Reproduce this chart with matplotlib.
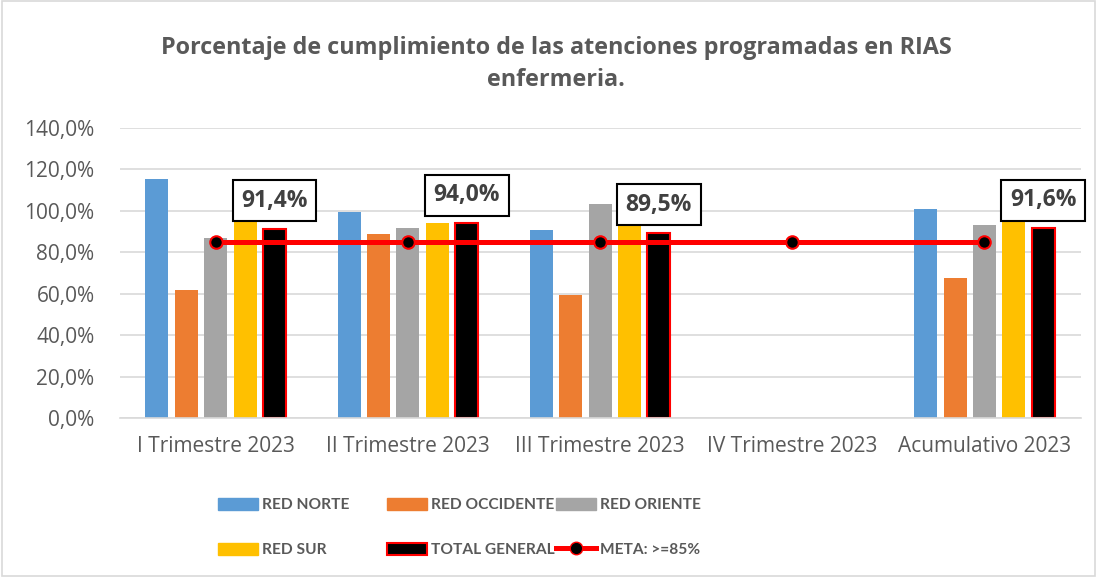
import matplotlib.pyplot as plt
import numpy as np
from matplotlib.lines import Line2D
from matplotlib.patches import Patch, Rectangle

plt.rcParams['font.family'] = ['Open Sans', 'DejaVu Sans']

# data (percent)
categories = ['I Trimestre 2023', 'II Trimestre 2023', 'III Trimestre 2023',
              'IV Trimestre 2023', 'Acumulativo 2023']
red_norte = [115.3, 99.4, 90.8, np.nan, 100.8]
red_occidente = [61.8, 88.9, 59.6, np.nan, 67.6]
red_oriente = [86.8, 91.6, 103.2, np.nan, 93.2]
red_sur = [111.4, 94.0, 103.4, np.nan, 102.1]
total_general = [91.4, 94.0, 89.5, np.nan, 91.6]
meta = [85, 85, 85, 85, 85]

gray_txt = '#595959'
grid_col = '#d9d9d9'

fig = plt.figure(figsize=(10.97, 5.77), dpi=100)
ax = fig.add_axes([0.109, 0.2756, 0.876, 0.5026])

x = np.arange(len(categories))
w = 0.12
step = 0.153
series = [(red_norte, '#5B9BD5', 'RED NORTE'),
          (red_occidente, '#ED7D31', 'RED OCCIDENTE'),
          (red_oriente, '#A5A5A5', 'RED ORIENTE'),
          (red_sur, '#FFC000', 'RED SUR')]
for i, (vals, col, lab) in enumerate(series):
    ax.bar(x + (i - 2) * step, vals, w, color=col, label=lab, zorder=2)
ax.bar(x + 2 * step, total_general, w, color='black', edgecolor='#FF0000',
       linewidth=1.5, label='TOTAL GENERAL', zorder=2)

ax.plot(x, meta, color='#FF0000', lw=3.6, marker='o', markersize=9,
        markerfacecolor='black', markeredgecolor='#FF0000', markeredgewidth=1.5,
        zorder=4)

# boxed labels for TOTAL GENERAL
for xi, v in zip(x, total_general):
    if np.isnan(v):
        continue
    ax.annotate(f'{v:.1f}%'.replace('.', ','), (xi + 2 * step, v),
                xytext=(0, 28), textcoords='offset pixels',
                ha='center', va='center', fontsize=16.5, fontweight='bold',
                color='#404040', zorder=5,
                bbox=dict(boxstyle='square,pad=0.38', fc='white', ec='black', lw=1.5))

ax.set_xlim(-0.5, 4.5)
ax.set_ylim(0, 140)
ax.set_yticks(np.arange(0, 141, 20))
ax.set_yticklabels([f'{t:.1f}%'.replace('.', ',') for t in np.arange(0, 141, 20)])
ax.set_xticks(x)
ax.set_xticklabels(categories)
ax.tick_params(axis='both', length=0, labelsize=15, colors=gray_txt)
ax.tick_params(axis='x', pad=13)
ax.tick_params(axis='y', pad=18)
ax.grid(axis='y', color=grid_col, lw=1.2, zorder=0)
ax.set_axisbelow(True)
for s in ['top', 'right', 'left']:
    ax.spines[s].set_visible(False)
ax.spines['bottom'].set_color(grid_col)
ax.spines['bottom'].set_linewidth(1.2)

fig.text(0.507, 0.916, 'Porcentaje de cumplimiento de las atenciones programadas en RIAS',
         ha='center', va='center', fontsize=16.8, fontweight='bold', color=gray_txt)
fig.text(0.507, 0.861, 'enfermeria.', ha='center', va='center', fontsize=16.8,
         fontweight='bold', color=gray_txt)

# legend, three columns placed like the original
h_norte = Patch(color='#5B9BD5')
h_occ = Patch(color='#ED7D31')
h_ori = Patch(color='#A5A5A5')
h_sur = Patch(color='#FFC000')
h_tot = Patch(facecolor='black', edgecolor='#FF0000', linewidth=1.5)
h_meta = Line2D([], [], color='#FF0000', lw=3.6, marker='o', markersize=9,
                markerfacecolor='black', markeredgecolor='#FF0000')
cols = [([h_norte, h_sur], ['RED NORTE', 'RED SUR'], 0.199),
        ([h_occ, h_tot], ['RED OCCIDENTE', 'TOTAL GENERAL'], 0.353),
        ([h_ori, h_meta], ['RED ORIENTE', 'META: >=85%'], 0.507)]
for hs, ls, xpos in cols:
    leg = fig.legend(hs, ls, loc='upper left', bbox_to_anchor=(xpos, 0.137),
                     frameon=False, handlelength=2.55, handleheight=0.8,
                     handletextpad=0.26, labelspacing=1.95, borderpad=0,
                     borderaxespad=0, prop=dict(family='Lato', size=11.2, weight='bold'))
    for t in leg.get_texts():
        t.set_color(gray_txt)

fig.patches.append(Rectangle((0.002, 0.002), 0.996, 0.996, transform=fig.transFigure,
                             fill=False, ec=grid_col, lw=1.2))

fig.savefig('out.png', dpi=100)
